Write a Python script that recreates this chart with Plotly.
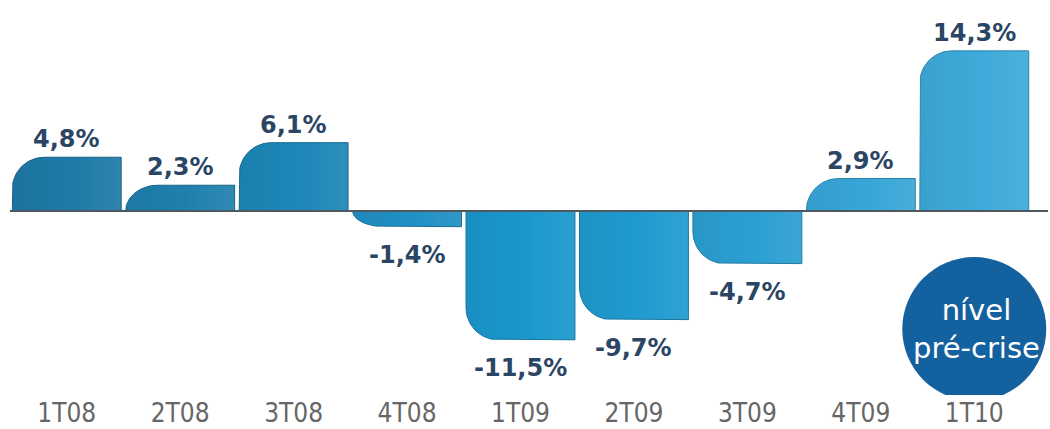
import numpy as np
import plotly.graph_objects as go

# Quarterly variation
categories = ["1T08", "2T08", "3T08", "4T08", "1T09", "2T09", "3T09", "4T09", "1T10"]
values = [4.8, 2.3, 6.1, -1.4, -11.5, -9.7, -4.7, 2.9, 14.3]

# Fill colours per bar (left: darker, right: lighter)
bar_colors = ["#1e7aa7", "#1f80ae", "#1c87b8", "#2090c3", "#1b97cd",
              "#209acf", "#2b9fd2", "#37a6d7", "#3eaad9"]

# Layout constants (pixels)
W, H = 1050, 429
M_L, M_R, M_T, M_B = 10, 2, 0, 34
ZERO_PX = 211            # vertical position of the zero line from the top
PX_PER_UNIT_Y = 11.2
X_RANGE = [-0.5, 8.65]
plot_w = W - M_L - M_R
plot_h = H - M_T - M_B
px_per_unit_x = plot_w / (X_RANGE[1] - X_RANGE[0])
y_range = [-(plot_h - ZERO_PX) / PX_PER_UNIT_Y, ZERO_PX / PX_PER_UNIT_Y]

BAR_HALF = 0.48
CORNER_PX = 32


def shade(hex_color, f):
    h = hex_color.lstrip("#")
    r, g, b = (int(h[i:i + 2], 16) for i in (0, 2, 4))
    if f < 0:
        r, g, b = (int(c * (1 + f)) for c in (r, g, b))
    else:
        r, g, b = (int(c + (255 - c) * f) for c in (r, g, b))
    return f"#{r:02x}{g:02x}{b:02x}"


def bar_outline(i, v):
    """Bar outline with the outer left corner rounded (elliptic in data units, round on screen)."""
    x0, x1 = i - BAR_HALF, i + BAR_HALF
    h_px = abs(v) * PX_PER_UNIT_Y
    rx = CORNER_PX / px_per_unit_x
    ry = min(CORNER_PX, h_px) / PX_PER_UNIT_Y
    if v >= 0:
        t = np.linspace(np.pi, np.pi / 2, 24)
        cx, cy = x0 + rx, v - ry
        xs = [x0, x0] + list(cx + rx * np.cos(t)) + [x1, x1, x0]
        ys = [0, v - ry] + list(cy + ry * np.sin(t)) + [v, 0, 0]
    else:
        t = np.linspace(1.5 * np.pi, np.pi, 24)
        cx, cy = x0 + rx, v + ry
        xs = [x0, x1, x1] + list(cx + rx * np.cos(t)) + [x0, x0]
        ys = [0, 0, v] + list(cy + ry * np.sin(t)) + [v + ry, 0]
    return xs, ys


fig = go.Figure()

for i, (cat, v) in enumerate(zip(categories, values)):
    xs, ys = bar_outline(i, v)
    base = bar_colors[i]
    fig.add_trace(go.Scatter(
        x=xs, y=ys, mode="lines", fill="toself",
        line=dict(color=shade(base, -0.22), width=1),
        fillgradient=dict(type="horizontal",
                          colorscale=[[0, shade(base, -0.05)], [0.55, base], [1, shade(base, 0.08)]]),
        hoverinfo="skip", showlegend=False,
    ))

# Value labels
for i, v in enumerate(values):
    label = f"{v:.1f}".replace(".", ",") + "%"
    fig.add_annotation(
        x=i, y=v, text=label, showarrow=False,
        yanchor="bottom" if v >= 0 else "top",
        yshift=2 if v >= 0 else -12,
        font=dict(family="DejaVu Sans", size=24, color="#2b4565", weight="bold"),
    )

# Zero line
fig.add_shape(type="line", xref="x", yref="y", x0=X_RANGE[0], x1=X_RANGE[1], y0=0, y1=0,
              line=dict(color="#4d5861", width=2), layer="above")

# Highlight badge under the last quarter
badge_y = -(329 - ZERO_PX) / PX_PER_UNIT_Y
fig.add_shape(type="circle", xref="x", yref="y", xsizemode="pixel", ysizemode="pixel",
              xanchor=len(categories) - 1, yanchor=badge_y,
              x0=-72, x1=72, y0=-72, y1=72,
              fillcolor="#1461a0", line=dict(width=0))
fig.add_annotation(x=len(categories) - 1, y=badge_y, text="nível<br>pré-crise", showarrow=False,
                   xshift=2, font=dict(family="DejaVu Sans", size=29, color="white"))

fig.update_layout(
    width=W, height=H,
    margin=dict(l=M_L, r=M_R, t=M_T, b=M_B),
    paper_bgcolor="white", plot_bgcolor="white",
    xaxis=dict(range=X_RANGE, tickmode="array", tickvals=list(range(len(categories))),
               ticktext=categories, showgrid=False, zeroline=False, showline=False,
               ticks="", tickfont=dict(family="DejaVu Sans Condensed, sans-serif",
                                       size=26, color="#666666")),
    yaxis=dict(range=y_range, visible=False, showgrid=False, zeroline=False),
)

fig.write_html("out.html")
